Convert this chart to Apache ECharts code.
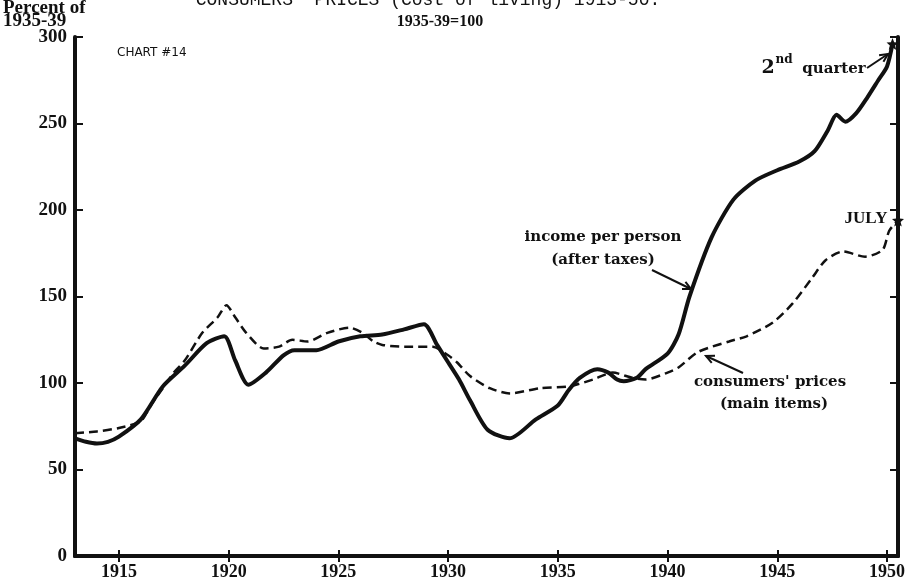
<!DOCTYPE html>
<html>
<head>
<meta charset="utf-8">
<title>Chart 14</title>
<script src="https://cdn.jsdelivr.net/npm/echarts@6/dist/echarts.min.js"></script>
</head>
<body style="margin:0;background:#fff">
<div id="main" style="width:909px;height:584px;"></div>
<script type="text/javascript">
// income per person (after taxes), 1935-39 = 100
var incomeYears = [1913, 1913.5, 1914, 1914.5, 1915, 1916, 1917, 1918, 1919, 1919.8, 1920.3, 1920.9,
  1921.7, 1922.5, 1923, 1924, 1925, 1926, 1927, 1928, 1928.9, 1929.5, 1930, 1930.5, 1931, 1931.8,
  1932.8, 1934, 1935, 1935.5, 1936, 1936.8, 1937.3, 1937.7, 1938, 1938.6, 1939, 1940, 1940.5,
  1941, 1942, 1943, 1944, 1945, 1946, 1946.7, 1947.3, 1947.7, 1948.1, 1948.6, 1949.1, 1949.6,
  1950, 1950.25];
var incomeValues = [68, 66, 65, 66, 69, 79, 98, 110, 123, 127, 113, 99,
  106, 116, 119, 119, 124, 127, 128, 131, 134, 122, 112, 102, 90, 73,
  68, 79, 87, 96, 103, 108, 106, 102, 101, 103, 108, 117, 128,
  150, 184, 206, 217, 223, 228, 234, 246, 255, 251, 256, 265, 275,
  283, 296];

// consumers' prices (main items)
var priceYears = [1913, 1914, 1915, 1916, 1916.5, 1917, 1917.5, 1918, 1918.8, 1919.5, 1919.9, 1920.3,
  1920.8, 1921.6, 1922.3, 1922.9, 1923.6, 1924.5, 1925.5, 1926.1, 1926.6, 1927, 1928, 1929.3,
  1930, 1930.4, 1931, 1931.9, 1932.8, 1934.2, 1935.5, 1936.6, 1937.5, 1938.4, 1939, 1940,
  1940.5, 1941.4, 1942.8, 1943.6, 1944.8, 1945.7, 1946.6, 1947.2, 1948, 1949, 1949.8, 1950.1,
  1950.5];
var priceValues = [71, 72, 74, 78, 88, 97, 106, 113, 129, 138, 145, 138,
  129, 120, 121, 125, 124, 129, 132, 129, 124, 122, 121, 121,
  116, 112, 104, 97, 94, 97, 98, 102, 106, 103, 102, 106,
  109, 118, 124, 127, 135, 146, 161, 171, 176, 173, 177, 188,
  194];

var yearTicks = [1915, 1920, 1925, 1930, 1935, 1940, 1945, 1950];

var serif = 'Liberation Serif';
var wideSerif = '"DejaVu Serif"';
var ink = '#111';

function pairs(xs, ys) {
  return xs.map(function (x, i) { return [x, ys[i]]; });
}

function arrow(x1, y1, x2, y2) {
  var a = Math.atan2(y2 - y1, x2 - x1);
  var h = 9, w = 0.45;
  return {
    type: 'group',
    silent: true,
    children: [
      { type: 'line', shape: { x1: x1, y1: y1, x2: x2, y2: y2 }, style: { stroke: ink, lineWidth: 2 } },
      { type: 'polyline', shape: { points: [
          [x2 - h * Math.cos(a - w), y2 - h * Math.sin(a - w)],
          [x2, y2],
          [x2 - h * Math.cos(a + w), y2 - h * Math.sin(a + w)]
        ] }, style: { stroke: ink, lineWidth: 2, fill: null } }
    ]
  };
}

function label(text, x, y, font, extra) {
  var s = { text: text, x: x, y: y, fill: ink, font: font,
    textAlign: 'center', textVerticalAlign: 'middle' };
  if (extra) { for (var k in extra) s[k] = extra[k]; }
  return { type: 'text', silent: true, style: s };
}

var star = 'path://M0,-10 L2.6,-3.6 L9.5,-3.1 L4.2,1.4 L5.9,8.1 L0,4.4 L-5.9,8.1 L-4.2,1.4 L-9.5,-3.1 L-2.6,-3.6 Z';
var noteFont = 'bold 15px ' + wideSerif;

var myChart = echarts.init(document.getElementById('main'));
var option = {
  animation: false,
  backgroundColor: '#fff',
  grid: { left: 75, right: 11, top: 37, bottom: 28 },
  xAxis: [{
    type: 'value', min: 1913, max: 1950.5, position: 'bottom',
    axisLine: { lineStyle: { color: ink, width: 4 } },
    axisTick: { inside: true, length: 6, lineStyle: { color: ink, width: 2 }, customValues: yearTicks },
    axisLabel: { customValues: yearTicks, color: ink, fontFamily: serif, fontWeight: 'bold', fontSize: 18, margin: 7,
      formatter: function (v) { return String(v); } },
    splitLine: { show: false }
  }, {
    type: 'value', min: 1913, max: 1950.5, position: 'top',
    axisLine: { lineStyle: { color: ink, width: 4 } },
    axisTick: { inside: true, length: 6, lineStyle: { color: ink, width: 2 }, customValues: yearTicks },
    axisLabel: { show: false },
    splitLine: { show: false }
  }],
  yAxis: [{
    type: 'value', min: 0, max: 300, interval: 50, position: 'left',
    axisLine: { show: true, lineStyle: { color: ink, width: 4 } },
    axisTick: { show: true, inside: true, length: 8, lineStyle: { color: ink, width: 2 } },
    axisLabel: { color: ink, fontFamily: serif, fontWeight: 'bold', fontSize: 19, margin: 8 },
    splitLine: { show: false }
  }, {
    type: 'value', min: 0, max: 300, interval: 50, position: 'right',
    axisLine: { show: true, lineStyle: { color: ink, width: 4 } },
    axisTick: { show: true, inside: true, length: 8, lineStyle: { color: ink, width: 2 } },
    axisLabel: { show: false },
    splitLine: { show: false }
  }],
  series: [{
    name: 'income per person',
    type: 'line',
    data: pairs(incomeYears, incomeValues),
    smooth: 0.25,
    showSymbol: false,
    lineStyle: { color: ink, width: 4 },
    markPoint: {
      symbol: star, symbolSize: 12, itemStyle: { color: ink },
      label: { show: false },
      data: [{ coord: [1950.25, 296] }]
    }
  }, {
    name: "consumers' prices",
    type: 'line',
    data: pairs(priceYears, priceValues),
    smooth: 0.25,
    showSymbol: false,
    lineStyle: { color: ink, width: 2.5, type: [9, 5] },
    markPoint: {
      symbol: star, symbolSize: 12, itemStyle: { color: ink },
      label: { show: false },
      data: [{ coord: [1950.5, 194] }]
    }
  }],
  graphic: [
    label("CONSUMERS' PRICES (Cost of living) 1913-50.", 428, 9, '18px "Liberation Mono"', { textVerticalAlign: 'bottom' }),
    label('Percent of', 3, 8, 'bold 19px ' + serif, { textAlign: 'left' }),
    label('1935-39', 3, 21, 'bold 19px ' + serif, { textAlign: 'left' }),
    label('1935-39=100', 440, 22, 'bold 16px ' + serif),
    label('CHART #14', 117, 53, '12px "DejaVu Sans"', { textAlign: 'left' }),
    label('2', 768, 68, 'bold 19px ' + wideSerif),
    label('nd', 784, 60, 'bold 12px ' + wideSerif),
    label('quarter', 834, 69, noteFont),
    arrow(867, 68, 888, 54),
    label('JULY', 866, 219, 'bold 17px ' + serif),
    label('income per person', 603, 237, noteFont),
    label('(after taxes)', 603, 260, noteFont),
    arrow(652, 270, 691, 289),
    label("consumers' prices", 770, 382, noteFont),
    label('(main items)', 774, 404, noteFont),
    arrow(743, 373, 706, 356)
  ]
};
myChart.setOption(option);
</script>
</body>
</html>
